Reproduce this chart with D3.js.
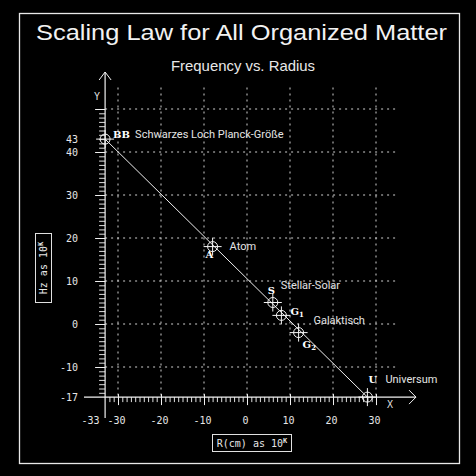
<!DOCTYPE html>
<html><head><meta charset="utf-8">
<script src="https://cdn.jsdelivr.net/npm/d3@7"></script>
<style>
html,body{margin:0;padding:0;background:#000;}
svg{display:block;}
</style></head>
<body>
<script>
// ---- data ----
const pointNames = ["BB", "A", "S", "G1", "G2", "U"];
const pointX = [-33, -8, 6, 8, 12, 28];
const pointY = [43, 18, 5, 2, -2, -17];
const pointDesc = ["Schwarzes Loch Planck-Größe", "Atom", "Stellar-Solar", "Galaktisch", "", "Universum"];
const xTickLabels = [-33, -30, -20, -10, 0, 10, 20, 30];
const yTickLabels = [43, 40, 30, 20, 10, 0, -10, -17];
const xMajorTicks = [-30, -20, -10, 0, 10, 20, 30];
const yMajorTicks = [50, 40, 30, 20, 10, 0, -10];
const titleText = "Scaling Law for All Organized Matter";
const subtitleText = "Frequency vs. Radius";

// ---- layout / style (not data) ----
const W = 476, H = 476;
const letterOffset = [[8,-1],[-7,11],[-5,-9],[9,0],[4,15],[1,-14]];
const descOffset = [[30,-1],[17,3],[8,-14],[32,9],[0,0],[18,-14]];

const svg = d3.select("body").append("svg").attr("width", W).attr("height", H);
svg.append("rect").attr("width", W).attr("height", H).attr("fill", "#000");
svg.append("rect").attr("x", 19.5).attr("y", 13.5).attr("width", 440).attr("height", 450)
  .attr("fill", "none").attr("stroke", "#e8e8e8").attr("stroke-width", 1.3);

const x = d3.scaleLinear().domain([-30, 30]).range([118, 376]);
const y = d3.scaleLinear().domain([0, -10]).range([324, 367]);
const xMin = -33, yMin = -17;
const ox = x(xMin), oy = y(yMin);

svg.append("text").attr("x", 241.5).attr("y", 40).attr("text-anchor", "middle")
  .attr("font-family", "Liberation Sans, Arial, sans-serif").attr("font-size", 22.5)
  .attr("textLength", 411).attr("lengthAdjust", "spacingAndGlyphs")
  .attr("fill", "#f2f2f2").text(titleText);
svg.append("text").attr("x", 243).attr("y", 71).attr("text-anchor", "middle")
  .attr("font-family", "Liberation Sans, Arial, sans-serif").attr("font-size", 14.5)
  .attr("textLength", 144).attr("lengthAdjust", "spacingAndGlyphs")
  .attr("fill", "#e8e8e8").text(subtitleText);

// gridlines
const grid = svg.append("g").attr("stroke", "#d0d0d0").attr("stroke-width", 1)
  .attr("stroke-dasharray", "2,4").attr("fill", "none");
grid.selectAll("line.v").data(xMajorTicks).join("line")
  .attr("x1", d => x(d)).attr("x2", d => x(d)).attr("y1", y(55)).attr("y2", oy);
grid.selectAll("line.h").data(yMajorTicks).join("line")
  .attr("y1", d => y(d)).attr("y2", d => y(d)).attr("x1", ox).attr("x2", x(35));

const tickFont = "DejaVu Sans Mono, monospace";

// y axis: minor ticks
const yMinor = d3.range(yMin + 1, 50);
svg.append("g").attr("transform", `translate(${ox},0)`)
  .call(d3.axisLeft(y).tickValues(yMinor).tickSize(6).tickFormat(""))
  .call(g => g.select(".domain").remove())
  .call(g => g.selectAll("line").attr("stroke", "#e0e0e0"));
svg.append("g").attr("transform", `translate(${ox},0)`)
  .call(d3.axisLeft(y).tickValues(yMajorTicks).tickSize(10).tickFormat(""))
  .call(g => g.select(".domain").remove())
  .call(g => g.selectAll("line").attr("stroke", "#f0f0f0"));
svg.append("g").attr("transform", `translate(${ox},0)`)
  .call(d3.axisLeft(y).tickValues(yTickLabels).tickSize(0).tickPadding(27).tickFormat(d => d))
  .call(g => g.select(".domain").remove())
  .call(g => g.selectAll("text").attr("fill", "#e6e6e6").attr("font-family", tickFont).attr("font-size", 10));

// x axis ticks
const xMinor = d3.range(xMin + 1, 31);
svg.append("g").attr("transform", `translate(0,${oy})`)
  .call(d3.axisBottom(x).tickValues(xMinor).tickSize(5).tickFormat(""))
  .call(g => g.select(".domain").remove())
  .call(g => g.selectAll("line").attr("stroke", "#e0e0e0"));
svg.append("g").attr("transform", `translate(0,${oy - 3})`)
  .call(d3.axisBottom(x).tickValues(xMajorTicks).tickSize(11).tickFormat(""))
  .call(g => g.select(".domain").remove())
  .call(g => g.selectAll("line").attr("stroke", "#f0f0f0"));
svg.append("g").attr("transform", `translate(0,${oy})`)
  .call(d3.axisBottom(x).tickValues(xTickLabels).tickSize(0).tickPadding(20).tickFormat(d => d))
  .call(g => g.select(".domain").remove())
  .call(g => g.selectAll("text").attr("fill", "#e6e6e6").attr("font-family", tickFont).attr("font-size", 10)
    .attr("text-anchor", d => d === xMin ? "end" : "middle").attr("dx", d => d === xMin ? -6 : -2));

// axis lines with open arrows
const axStroke = "#f2f2f2";
svg.append("line").attr("x1", ox).attr("x2", ox).attr("y1", 72).attr("y2", 418).attr("stroke", axStroke).attr("stroke-width", 1.2);
svg.append("path").attr("d", `M${ox-6},80 L${ox},72 L${ox+6},80`).attr("fill", "none").attr("stroke", axStroke);
svg.append("line").attr("x1", 84).attr("x2", 416).attr("y1", oy).attr("y2", oy).attr("stroke", axStroke).attr("stroke-width", 1.2);
svg.append("path").attr("d", `M409,${oy-7} L416,${oy} L409,${oy+7}`).attr("fill", "none").attr("stroke", axStroke);
svg.append("text").attr("x", ox - 11).attr("y", 100).attr("font-family", tickFont).attr("font-size", 10)
  .attr("fill", "#ddd").text("Y");
svg.append("text").attr("x", 387).attr("y", 408).attr("font-family", tickFont).attr("font-size", 10)
  .attr("fill", "#ddd").text("X");

// axis title boxes
const xl = svg.append("g");
xl.append("rect").attr("x", 212.5).attr("y", 434.5).attr("width", 79).attr("height", 17)
  .attr("fill", "none").attr("stroke", "#e0e0e0");
const xt = xl.append("text").attr("x", 252).attr("y", 447).attr("text-anchor", "middle")
  .attr("font-family", tickFont).attr("font-size", 10).attr("fill", "#e6e6e6");
xt.append("tspan").text("R(cm) as 10");
xt.append("tspan").attr("font-size", 7).attr("dy", -4).attr("font-weight", "bold").text("K");

const yl = svg.append("g");
yl.append("rect").attr("x", 35.5).attr("y", 233.5).attr("width", 16).attr("height", 69)
  .attr("fill", "none").attr("stroke", "#e0e0e0");
const yt = yl.append("text").attr("transform", "translate(47,268) rotate(-90)").attr("text-anchor", "middle")
  .attr("font-family", tickFont).attr("font-size", 10).attr("fill", "#e6e6e6");
yt.append("tspan").text("Hz as 10");
yt.append("tspan").attr("font-size", 7).attr("dy", -4).attr("font-weight", "bold").text("K");

// scaling line
const pts = pointX.map((d, i) => ({x: d, y: pointY[i], name: pointNames[i], desc: pointDesc[i], i}));
const ends = [pts[0], pts[pts.length - 1]];
svg.append("path").datum(ends)
  .attr("d", d3.line().x(d => x(d.x)).y(d => y(d.y)))
  .attr("fill", "none").attr("stroke", "#f0f0f0").attr("stroke-width", 1);

// markers
const mk = svg.append("g").selectAll("g").data(pts).join("g")
  .attr("transform", d => `translate(${x(d.x)},${y(d.y)})`);
mk.append("circle").attr("r", 5).attr("fill", "none").attr("stroke", "#f4f4f4").attr("stroke-width", 1);
mk.append("line").attr("x1", -9).attr("x2", 9).attr("stroke", "#f4f4f4");
mk.append("line").attr("y1", -9).attr("y2", 9).attr("stroke", "#f4f4f4");

// letter labels
const lt = mk.append("text")
  .attr("x", d => letterOffset[d.i][0]).attr("y", d => letterOffset[d.i][1])
  .attr("font-family", "DejaVu Serif, serif").attr("font-weight", "bold").attr("font-size", 10)
  .attr("fill", "#fff");
lt.each(function(d) {
  const t = d3.select(this);
  const m = d.name.match(/^([A-Z]+)(\d?)$/);
  if (m[2]) {
    t.append("tspan").text(m[1]);
    t.append("tspan").attr("font-size", 7).attr("dy", 2).text(m[2]);
  } else {
    t.text(d.name);
  }
});

// descriptive labels
mk.filter(d => d.desc).append("text")
  .attr("x", d => descOffset[d.i][0]).attr("y", d => descOffset[d.i][1])
  .attr("font-family", "Roboto, sans-serif").attr("font-size", 11)
  .attr("fill", "#e4e4e4").text(d => d.desc);
</script>
</body></html>
